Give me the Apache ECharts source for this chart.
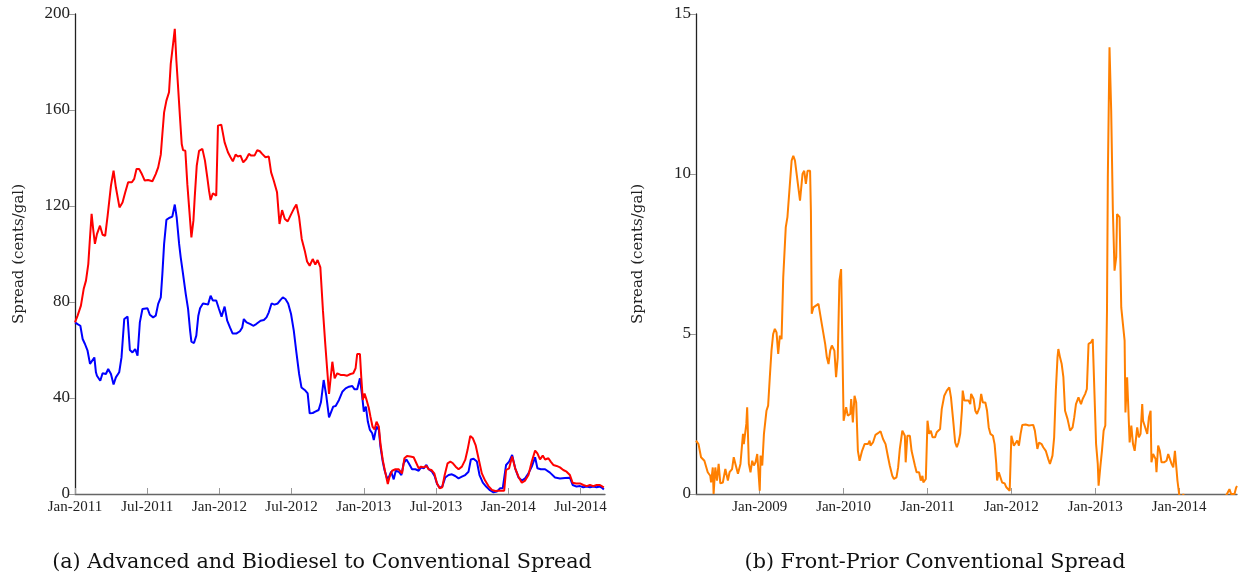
<!DOCTYPE html>
<html>
<head>
<meta charset="utf-8">
<title>Spreads</title>
<script src="https://cdn.jsdelivr.net/npm/echarts@6/dist/echarts.min.js"></script>
<style>
html,body{margin:0;padding:0;background:#fff;}
#main{width:1241px;height:575px;}
</style>
</head>
<body>
<div id="main"></div>
<script>
// (a) biodiesel to conventional spread (red), [year, cents/gal]
var bioConvSpread=[
[2011.000,71.5],[2011.018,74.3],[2011.041,78.5],[2011.060,85.4],[2011.076,88.9],[2011.092,95.8],[2011.104,107],[2011.115,116.7],
[2011.127,109.7],[2011.138,104.2],[2011.152,108.3],[2011.173,111.8],[2011.191,108],[2011.209,107.6],[2011.226,116],[2011.249,128.5],
[2011.267,134.7],[2011.283,127.8],[2011.308,119.4],[2011.329,121.5],[2011.348,125.7],[2011.368,129.9],[2011.394,129.9],[2011.410,131.3],
[2011.426,135.4],[2011.444,135.4],[2011.463,133.3],[2011.483,130.6],[2011.506,130.8],[2011.536,130.3],[2011.559,133.3],[2011.576,136.1],
[2011.594,141.4],[2011.605,150],[2011.617,159],[2011.633,163.9],[2011.651,167.4],[2011.663,179.2],[2011.679,187.5],[2011.691,193.8],
[2011.702,180.6],[2011.714,169.4],[2011.727,156.9],[2011.739,145.8],[2011.748,143.3],[2011.764,143],[2011.778,129],[2011.792,118],
[2011.806,106.9],[2011.820,113.9],[2011.829,123.6],[2011.843,136.8],[2011.859,143],[2011.882,143.8],[2011.900,138.9],[2011.916,131.9],
[2011.928,126.4],[2011.939,122.5],[2011.955,125.3],[2011.978,124.3],[2011.990,153.5],[2012.013,153.9],[2012.036,146.5],[2012.059,142.4],
[2012.077,140.3],[2012.093,138.6],[2012.112,141.4],[2012.128,140.6],[2012.146,141],[2012.165,138.2],[2012.186,139.6],[2012.204,141.7],
[2012.220,141],[2012.243,141],[2012.262,143.3],[2012.280,142.8],[2012.296,141.7],[2012.319,140.3],[2012.342,140.6],[2012.358,134],
[2012.376,130.6],[2012.399,125.7],[2012.416,112.5],[2012.434,118.3],[2012.453,114.6],[2012.473,113.6],[2012.492,116],[2012.515,118.8],
[2012.533,120.6],[2012.552,115.3],[2012.570,106.3],[2012.591,101.4],[2012.607,96.9],[2012.625,95.1],[2012.646,97.9],[2012.664,95.6],
[2012.680,97.5],[2012.699,94.4],[2012.717,76.4],[2012.733,62.5],[2012.745,52.8],[2012.759,41.7],[2012.782,55.1],[2012.798,48.2],
[2012.816,50.3],[2012.839,49.6],[2012.862,49.6],[2012.885,49.3],[2012.908,50],[2012.927,50.3],[2012.943,52.4],[2012.954,58.3],
[2012.973,58.3],[2012.982,48.9],[2012.993,39.2],[2013.005,41.9],[2013.019,39.2],[2013.035,35.7],[2013.046,32.2],[2013.060,28.1],
[2013.074,26.9],[2013.088,30.1],[2013.104,28.1],[2013.115,21.1],[2013.131,14.2],[2013.150,8.6],[2013.166,4.2],[2013.177,6.9],
[2013.196,9.7],[2013.219,10.3],[2013.242,10.3],[2013.265,8.6],[2013.281,14.9],[2013.299,15.8],[2013.322,15.6],[2013.345,15.3],
[2013.364,12.8],[2013.380,10.7],[2013.396,11.4],[2013.415,11.1],[2013.433,11.7],[2013.449,10.3],[2013.468,10],[2013.488,8.6],
[2013.507,4.4],[2013.525,2.4],[2013.543,2.8],[2013.560,7.9],[2013.580,12.8],[2013.599,13.5],[2013.617,12.8],[2013.636,11.4],
[2013.656,10.3],[2013.679,11.4],[2013.702,14.2],[2013.718,18.3],[2013.737,24.2],[2013.755,23.2],[2013.774,20.4],[2013.794,14.9],
[2013.817,8.6],[2013.840,5.6],[2013.863,3.3],[2013.887,1.7],[2013.910,1.25],[2013.933,1.4],[2013.956,1.4],[2013.972,1.4],
[2013.985,10],[2014.006,10.7],[2014.027,15.6],[2014.048,10.7],[2014.071,7.2],[2014.094,4.7],[2014.117,5.6],[2014.140,7.9],
[2014.163,13.5],[2014.186,18.1],[2014.202,16.9],[2014.220,14.4],[2014.239,16],[2014.255,14.4],[2014.278,14.9],[2014.294,13.5],
[2014.312,12.1],[2014.335,11.7],[2014.358,11.1],[2014.381,10],[2014.404,9.3],[2014.427,7.9],[2014.446,4.7],[2014.469,4.4],
[2014.497,4.4],[2014.520,3.75],[2014.543,3.3],[2014.566,3.75],[2014.589,3.3],[2014.612,3.75],[2014.635,3.75],[2014.653,3.1],[2014.662,2.8]
];

// (a) advanced to conventional spread (blue)
var advConvSpread=[
[2011.000,71.5],[2011.018,70.8],[2011.037,70.1],[2011.053,64.6],[2011.069,62.5],[2011.087,59.7],[2011.104,54.2],[2011.117,54.9],
[2011.134,56.9],[2011.145,50.7],[2011.152,49.3],[2011.161,48.9],[2011.175,47.2],[2011.191,50.3],[2011.214,50],[2011.230,52.1],
[2011.249,50],[2011.267,45.6],[2011.283,48.6],[2011.306,50.7],[2011.322,56.9],[2011.341,72.9],[2011.364,73.9],[2011.380,60],
[2011.398,59],[2011.417,60.4],[2011.433,57.6],[2011.449,71.5],[2011.467,77.1],[2011.502,77.4],[2011.518,74.7],[2011.541,73.6],
[2011.559,74.3],[2011.576,79.2],[2011.594,81.9],[2011.605,91.7],[2011.617,104.2],[2011.633,114.2],[2011.651,115],[2011.674,115.6],
[2011.691,120.6],[2011.704,115.3],[2011.721,104.2],[2011.732,98.6],[2011.748,91.7],[2011.767,83.3],[2011.783,77.1],[2011.797,68.1],
[2011.806,63.5],[2011.824,62.9],[2011.840,66],[2011.854,74.3],[2011.866,77.4],[2011.886,79.4],[2011.905,79.2],[2011.921,78.9],
[2011.939,82.6],[2011.955,80.6],[2011.978,80.6],[2011.997,77.1],[2012.015,73.9],[2012.036,78.1],[2012.054,72.2],[2012.073,69.4],
[2012.091,66.9],[2012.119,66.9],[2012.142,67.8],[2012.158,69.4],[2012.169,72.9],[2012.188,71.5],[2012.215,70.8],[2012.234,70.1],
[2012.255,70.8],[2012.268,70.6],[2012.285,72.2],[2012.308,72.5],[2012.326,73.6],[2012.342,75.7],[2012.361,79.4],[2012.381,78.9],
[2012.404,79.4],[2012.422,80.8],[2012.439,81.9],[2012.457,81.25],[2012.476,79.4],[2012.496,75],[2012.515,68.1],[2012.533,59],
[2012.552,50],[2012.568,44.4],[2012.595,43.1],[2012.611,41.9],[2012.625,33.6],[2012.646,33.75],[2012.664,34.3],[2012.687,35],
[2012.703,38.2],[2012.722,47.5],[2012.740,41],[2012.759,31.9],[2012.788,36.4],[2012.805,36.7],[2012.828,39.2],[2012.851,42.6],
[2012.874,44],[2012.897,44.7],[2012.920,45],[2012.936,43.6],[2012.954,43.6],[2012.973,48.2],[2012.989,40.6],[2013.000,34.3],
[2013.014,36.4],[2013.028,30.1],[2013.042,26.7],[2013.058,25.3],[2013.069,22.5],[2013.088,28.1],[2013.104,26.7],[2013.115,19.7],
[2013.131,13.5],[2013.143,10],[2013.161,6.5],[2013.175,7.2],[2013.189,9.3],[2013.207,6.1],[2013.221,9.7],[2013.242,9.3],
[2013.260,7.9],[2013.276,12.8],[2013.295,14.4],[2013.311,12.8],[2013.334,10.3],[2013.357,10.3],[2013.380,9.7],[2013.396,11.1],
[2013.415,10.7],[2013.433,12.1],[2013.449,10.3],[2013.472,9.3],[2013.490,7.5],[2013.507,4.2],[2013.525,2.6],[2013.543,3.1],
[2013.564,6.9],[2013.587,7.9],[2013.610,8.2],[2013.633,7.5],[2013.656,6.5],[2013.679,7.2],[2013.702,7.9],[2013.725,9.3],
[2013.741,14.4],[2013.760,14.7],[2013.783,13.5],[2013.801,7.9],[2013.824,4.7],[2013.847,3.1],[2013.870,1.7],[2013.898,0.7],
[2013.921,1.0],[2013.944,2.4],[2013.962,2.4],[2013.985,12.1],[2014.006,13.5],[2014.027,16.25],[2014.048,10.7],[2014.071,6.9],
[2014.094,5.6],[2014.117,6.5],[2014.140,8.6],[2014.163,11.4],[2014.186,15.3],[2014.202,10.7],[2014.225,10.3],[2014.255,10.3],
[2014.289,8.9],[2014.324,6.9],[2014.358,6.5],[2014.393,6.7],[2014.427,6.8],[2014.446,3.75],[2014.473,3.1],[2014.497,3.3],
[2014.520,2.8],[2014.543,3.1],[2014.566,2.8],[2014.589,3.1],[2014.612,2.8],[2014.635,3.1],[2014.653,2.4],[2014.662,1.9]
];

// (b) front-prior conventional spread (orange)
var frontPriorSpread=[
[2008.24,1.67],[2008.27,1.56],[2008.30,1.15],[2008.34,1.04],[2008.36,1.09],[2008.38,0.68],[2008.41,0.57],[2008.42,0.36],
[2008.44,0.83],[2008.45,0.0],[2008.47,0.83],[2008.49,0.42],[2008.51,0.94],[2008.53,0.33],[2008.56,0.36],[2008.59,0.78],
[2008.61,0.73],[2008.62,0.42],[2008.64,0.68],[2008.67,0.78],[2008.69,1.15],[2008.71,0.94],[2008.74,0.63],[2008.77,0.94],
[2008.80,1.88],[2008.81,1.56],[2008.84,2.19],[2008.85,2.71],[2008.87,0.94],[2008.89,0.68],[2008.91,1.04],[2008.93,0.89],
[2008.95,0.99],[2008.97,1.25],[2009.00,0.10],[2009.01,1.20],[2009.03,0.89],[2009.05,1.88],[2009.08,2.60],[2009.10,2.76],
[2009.12,3.65],[2009.14,4.48],[2009.16,5.0],[2009.18,5.16],[2009.20,5.05],[2009.22,4.38],[2009.24,4.95],[2009.26,4.84],
[2009.28,6.77],[2009.31,8.33],[2009.33,8.65],[2009.35,8.7],[2009.38,10.42],[2009.40,10.57],[2009.42,10.42],[2009.44,10.4],
[2009.46,9.58],[2009.48,9.17],[2009.51,10.0],[2009.53,10.1],[2009.55,9.69],[2009.57,10.1],[2009.60,10.1],[2009.61,8.85],
[2009.62,5.63],[2009.64,5.83],[2009.66,5.89],[2009.70,5.94],[2009.72,5.99],[2009.74,5.31],[2009.76,5.26],[2009.78,4.69],
[2009.80,4.27],[2009.82,4.06],[2009.84,4.48],[2009.86,4.64],[2009.89,4.48],[2009.91,3.65],[2009.93,4.27],[2009.95,6.67],
[2009.97,7.03],[2010.00,2.29],[2010.02,2.29],[2010.03,2.71],[2010.05,2.45],[2010.08,2.5],[2010.09,2.97],[2010.11,2.24],
[2010.13,3.07],[2010.15,2.86],[2010.17,1.35],[2010.19,1.04],[2010.22,1.35],[2010.25,1.56],[2010.29,1.56],[2010.31,1.67],
[2010.32,1.51],[2010.35,1.61],[2010.38,1.85],[2010.41,1.9],[2010.44,1.96],[2010.47,1.72],[2010.50,1.56],[2010.53,1.15],
[2010.55,0.89],[2010.58,0.57],[2010.60,0.47],[2010.63,0.52],[2010.65,0.83],[2010.67,1.41],[2010.69,1.41],[2010.70,1.98],
[2010.73,1.82],[2010.74,0.99],[2010.76,1.82],[2010.79,1.82],[2010.81,1.35],[2010.85,0.89],[2010.87,0.68],[2010.90,0.68],
[2010.92,0.42],[2010.94,0.57],[2010.95,0.36],[2010.98,0.47],[2011.00,2.29],[2011.02,1.88],[2011.04,1.98],[2011.06,1.77],
[2011.09,1.77],[2011.11,1.93],[2011.13,1.88],[2011.15,2.03],[2011.17,2.66],[2011.20,3.07],[2011.23,3.23],[2011.26,3.33],
[2011.28,3.02],[2011.31,2.19],[2011.33,1.61],[2011.35,1.46],[2011.37,1.61],[2011.39,1.88],[2011.41,2.6],[2011.42,3.23],
[2011.44,2.92],[2011.46,2.97],[2011.49,2.92],[2011.51,2.81],[2011.52,3.13],[2011.55,2.97],[2011.57,2.6],[2011.59,2.5],
[2011.62,2.71],[2011.64,3.13],[2011.66,2.86],[2011.69,2.86],[2011.71,2.6],[2011.73,2.08],[2011.75,1.88],[2011.78,1.82],
[2011.80,1.56],[2011.82,0.94],[2011.83,0.42],[2011.85,0.68],[2011.87,0.63],[2011.89,0.36],[2011.92,0.33],[2011.94,0.21],
[2011.96,0.16],[2011.98,0.10],[2012.00,1.82],[2012.03,1.51],[2012.05,1.56],[2012.07,1.67],[2012.09,1.51],[2012.11,1.88],
[2012.13,2.16],[2012.17,2.17],[2012.21,2.14],[2012.26,2.16],[2012.28,1.98],[2012.31,1.41],[2012.33,1.61],[2012.36,1.56],
[2012.38,1.46],[2012.41,1.35],[2012.44,1.09],[2012.46,0.94],[2012.49,1.2],[2012.51,1.77],[2012.53,3.23],[2012.55,4.27],
[2012.56,4.53],[2012.58,4.27],[2012.60,4.06],[2012.62,3.65],[2012.64,2.6],[2012.67,2.34],[2012.69,2.29],[2012.70,1.98],
[2012.73,2.08],[2012.75,2.4],[2012.77,2.81],[2012.80,3.02],[2012.83,2.81],[2012.85,2.97],[2012.88,3.13],[2012.90,3.28],
[2012.92,4.69],[2012.95,4.74],[2012.97,4.84],[2012.99,4.9],[2013.01,1.56],[2013.03,0.94],[2013.04,0.26],[2013.06,0.83],
[2013.08,1.35],[2013.10,1.98],[2013.12,2.14],[2013.14,5.73],[2013.15,9.9],[2013.17,13.96],[2013.19,11.98],[2013.21,8.85],
[2013.23,6.98],[2013.25,7.4],[2013.26,8.75],[2013.29,8.65],[2013.31,5.83],[2013.33,5.31],[2013.35,4.79],[2013.36,2.55],
[2013.38,3.65],[2013.39,3.65],[2013.41,1.61],[2013.43,2.14],[2013.45,1.56],[2013.47,1.35],[2013.50,2.08],[2013.52,1.77],
[2013.54,1.88],[2013.56,2.81],[2013.57,2.29],[2013.59,2.34],[2013.62,1.88],[2013.64,2.4],[2013.66,2.6],[2013.67,0.99],
[2013.69,1.25],[2013.72,1.09],[2013.73,0.68],[2013.75,1.51],[2013.77,1.35],[2013.79,0.99],[2013.82,0.99],[2013.85,1.04],
[2013.87,1.25],[2013.89,1.30],[2013.91,0.94],[2013.93,0.83],[2013.95,1.35],[2013.97,0.73],[2013.98,0.42],[2014.00,0.0],
[2014.02,-0.2],[2014.03,-0.3],[2014.05,0.0],[2014.07,-0.3],[2014.15,-0.4],[2014.25,-0.3],[2014.35,-0.35],[2014.45,-0.2],
[2014.52,-0.15],[2014.56,-0.05],[2014.58,0.0],[2014.60,0.15],[2014.62,0.0],[2014.64,0.05],[2014.66,0.0],[2014.68,0.2],[2014.69,0.25]
];

var leftTicks=[2011,2011.5,2012,2012.5,2013,2013.5,2014,2014.5];
var rightTicks=[2009,2010,2011,2012,2013,2014];
var leftYTicks=[0,40,80,120,160,200];
var rightYTicks=[0,5,10,15];
var captionA="(a) Advanced and Biodiesel to Conventional Spread";
var captionB="(b) Front-Prior Conventional Spread";
var yName="Spread (cents/gal)";

var FONT="Liberation Serif";
var WIDE_FONT="DejaVu Serif";

function tickName(v){
    if(Math.abs(v-Math.round(v))<0.01){
        return "Jan-"+Math.round(v);
    }
    return "Jul-"+Math.floor(v);
}

function makeXAxis(gridIndex,min,max,ticks){
    return {
        type:'value',
        gridIndex:gridIndex,
        min:min,
        max:max,
        splitLine:{show:false},
        axisLine:{onZero:false,lineStyle:{color:'#666',width:1.3}},
        axisTick:{inside:true,length:6,customValues:ticks,lineStyle:{color:'#999',width:1}},
        axisLabel:{customValues:ticks,formatter:tickName,fontFamily:FONT,fontSize:15,color:'#222',margin:6}
    };
}

function makeYAxis(gridIndex,max,ticks,gap){
    return {
        type:'value',
        gridIndex:gridIndex,
        min:0,
        max:max,
        name:yName,
        nameLocation:'middle',
        nameGap:gap,
        nameTextStyle:{fontFamily:WIDE_FONT,fontSize:15,color:'#222'},
        splitLine:{show:false},
        axisLine:{show:true,lineStyle:{color:'#222',width:1.3}},
        axisTick:{show:true,length:6,customValues:ticks,lineStyle:{color:'#999',width:1}},
        axisLabel:{customValues:ticks,fontFamily:FONT,fontSize:17,color:'#222',margin:5}
    };
}

function lineSeries(name,xi,data,color){
    return {
        name:name,
        type:'line',
        xAxisIndex:xi,
        yAxisIndex:xi,
        data:data,
        showSymbol:false,
        symbol:'none',
        clip:true,
        lineStyle:{color:color,width:2},
        z:2
    };
}

var myChart=echarts.init(document.getElementById('main'),null,{renderer:'canvas'});
var option={
    animation:false,
    backgroundColor:'#fff',
    title:[
        {text:captionA,left:317,top:547,textAlign:'center',textStyle:{fontFamily:WIDE_FONT,fontSize:20.7,fontWeight:'normal',color:'#111'}},
        {text:captionB,left:930,top:547,textAlign:'center',textStyle:{fontFamily:WIDE_FONT,fontSize:20.7,fontWeight:'normal',color:'#111'}}
    ],
    grid:[
        {left:75,width:530,top:14,height:480},
        {left:696,width:541,top:14,height:480}
    ],
    xAxis:[
        makeXAxis(0,2011.0,2014.67,leftTicks),
        makeXAxis(1,2008.24,2014.69,rightTicks)
    ],
    yAxis:[
        makeYAxis(0,200,leftYTicks,48),
        makeYAxis(1,15,rightYTicks,50)
    ],
    series:[
        lineSeries('Advanced',0,advConvSpread,'#0000ff'),
        lineSeries('Biodiesel',0,bioConvSpread,'#ff0000'),
        lineSeries('Front-Prior',1,frontPriorSpread,'#ff7f00')
    ]
};
myChart.setOption(option);
</script>
</body>
</html>
